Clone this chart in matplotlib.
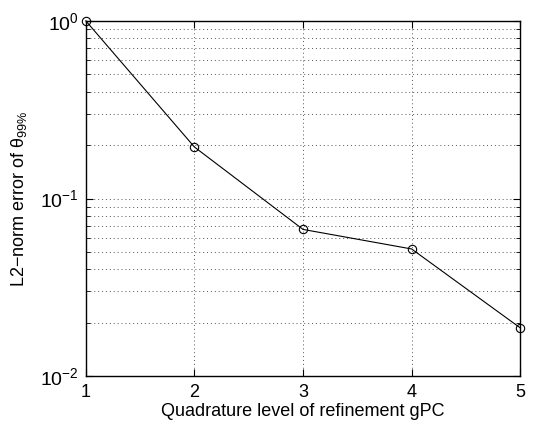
import matplotlib
matplotlib.use("Agg")
import matplotlib.pyplot as plt

plt.rcParams['font.family'] = ['Liberation Sans', 'DejaVu Sans']
plt.rcParams['mathtext.fontset'] = 'custom'
plt.rcParams['mathtext.rm'] = 'Liberation Sans'
plt.rcParams['mathtext.it'] = 'Liberation Sans'

# quadrature level vs. error
levels = [1, 2, 3, 4, 5]
errors = [1.0, 0.195, 0.067, 0.052, 0.0187]

fig = plt.figure(figsize=(5.33, 4.26), dpi=100)
ax = fig.add_axes([0.161, 0.117, 0.815, 0.834])

ax.semilogy(levels, errors, '-o', color='black', lw=0.8,
            markersize=6, markerfacecolor='none', markeredgewidth=0.8,
            clip_on=False, zorder=3)

ax.set_xlim(1, 5)
ax.set_ylim(1e-2, 1e0)
ax.set_xticks(levels)
ax.grid(True, which='both', linestyle=(0, (1, 3)), color='#555555', linewidth=0.7)
ax.tick_params(which='both', direction='in', top=True, right=True)
ax.tick_params(axis='x', labelsize=13, pad=6)
ax.tick_params(axis='y', labelsize=14, pad=5)
ax.tick_params(which='major', length=5)
ax.tick_params(which='minor', length=3)
for s in ax.spines.values():
    s.set_linewidth(1.0)

ax.set_xlabel('Quadrature level of refinement gPC', fontsize=13, labelpad=1)
ax.set_ylabel('L2\u2212norm error of $\\theta_{99\\%}$', fontsize=13, labelpad=8)

fig.savefig('out.png', dpi=100)
